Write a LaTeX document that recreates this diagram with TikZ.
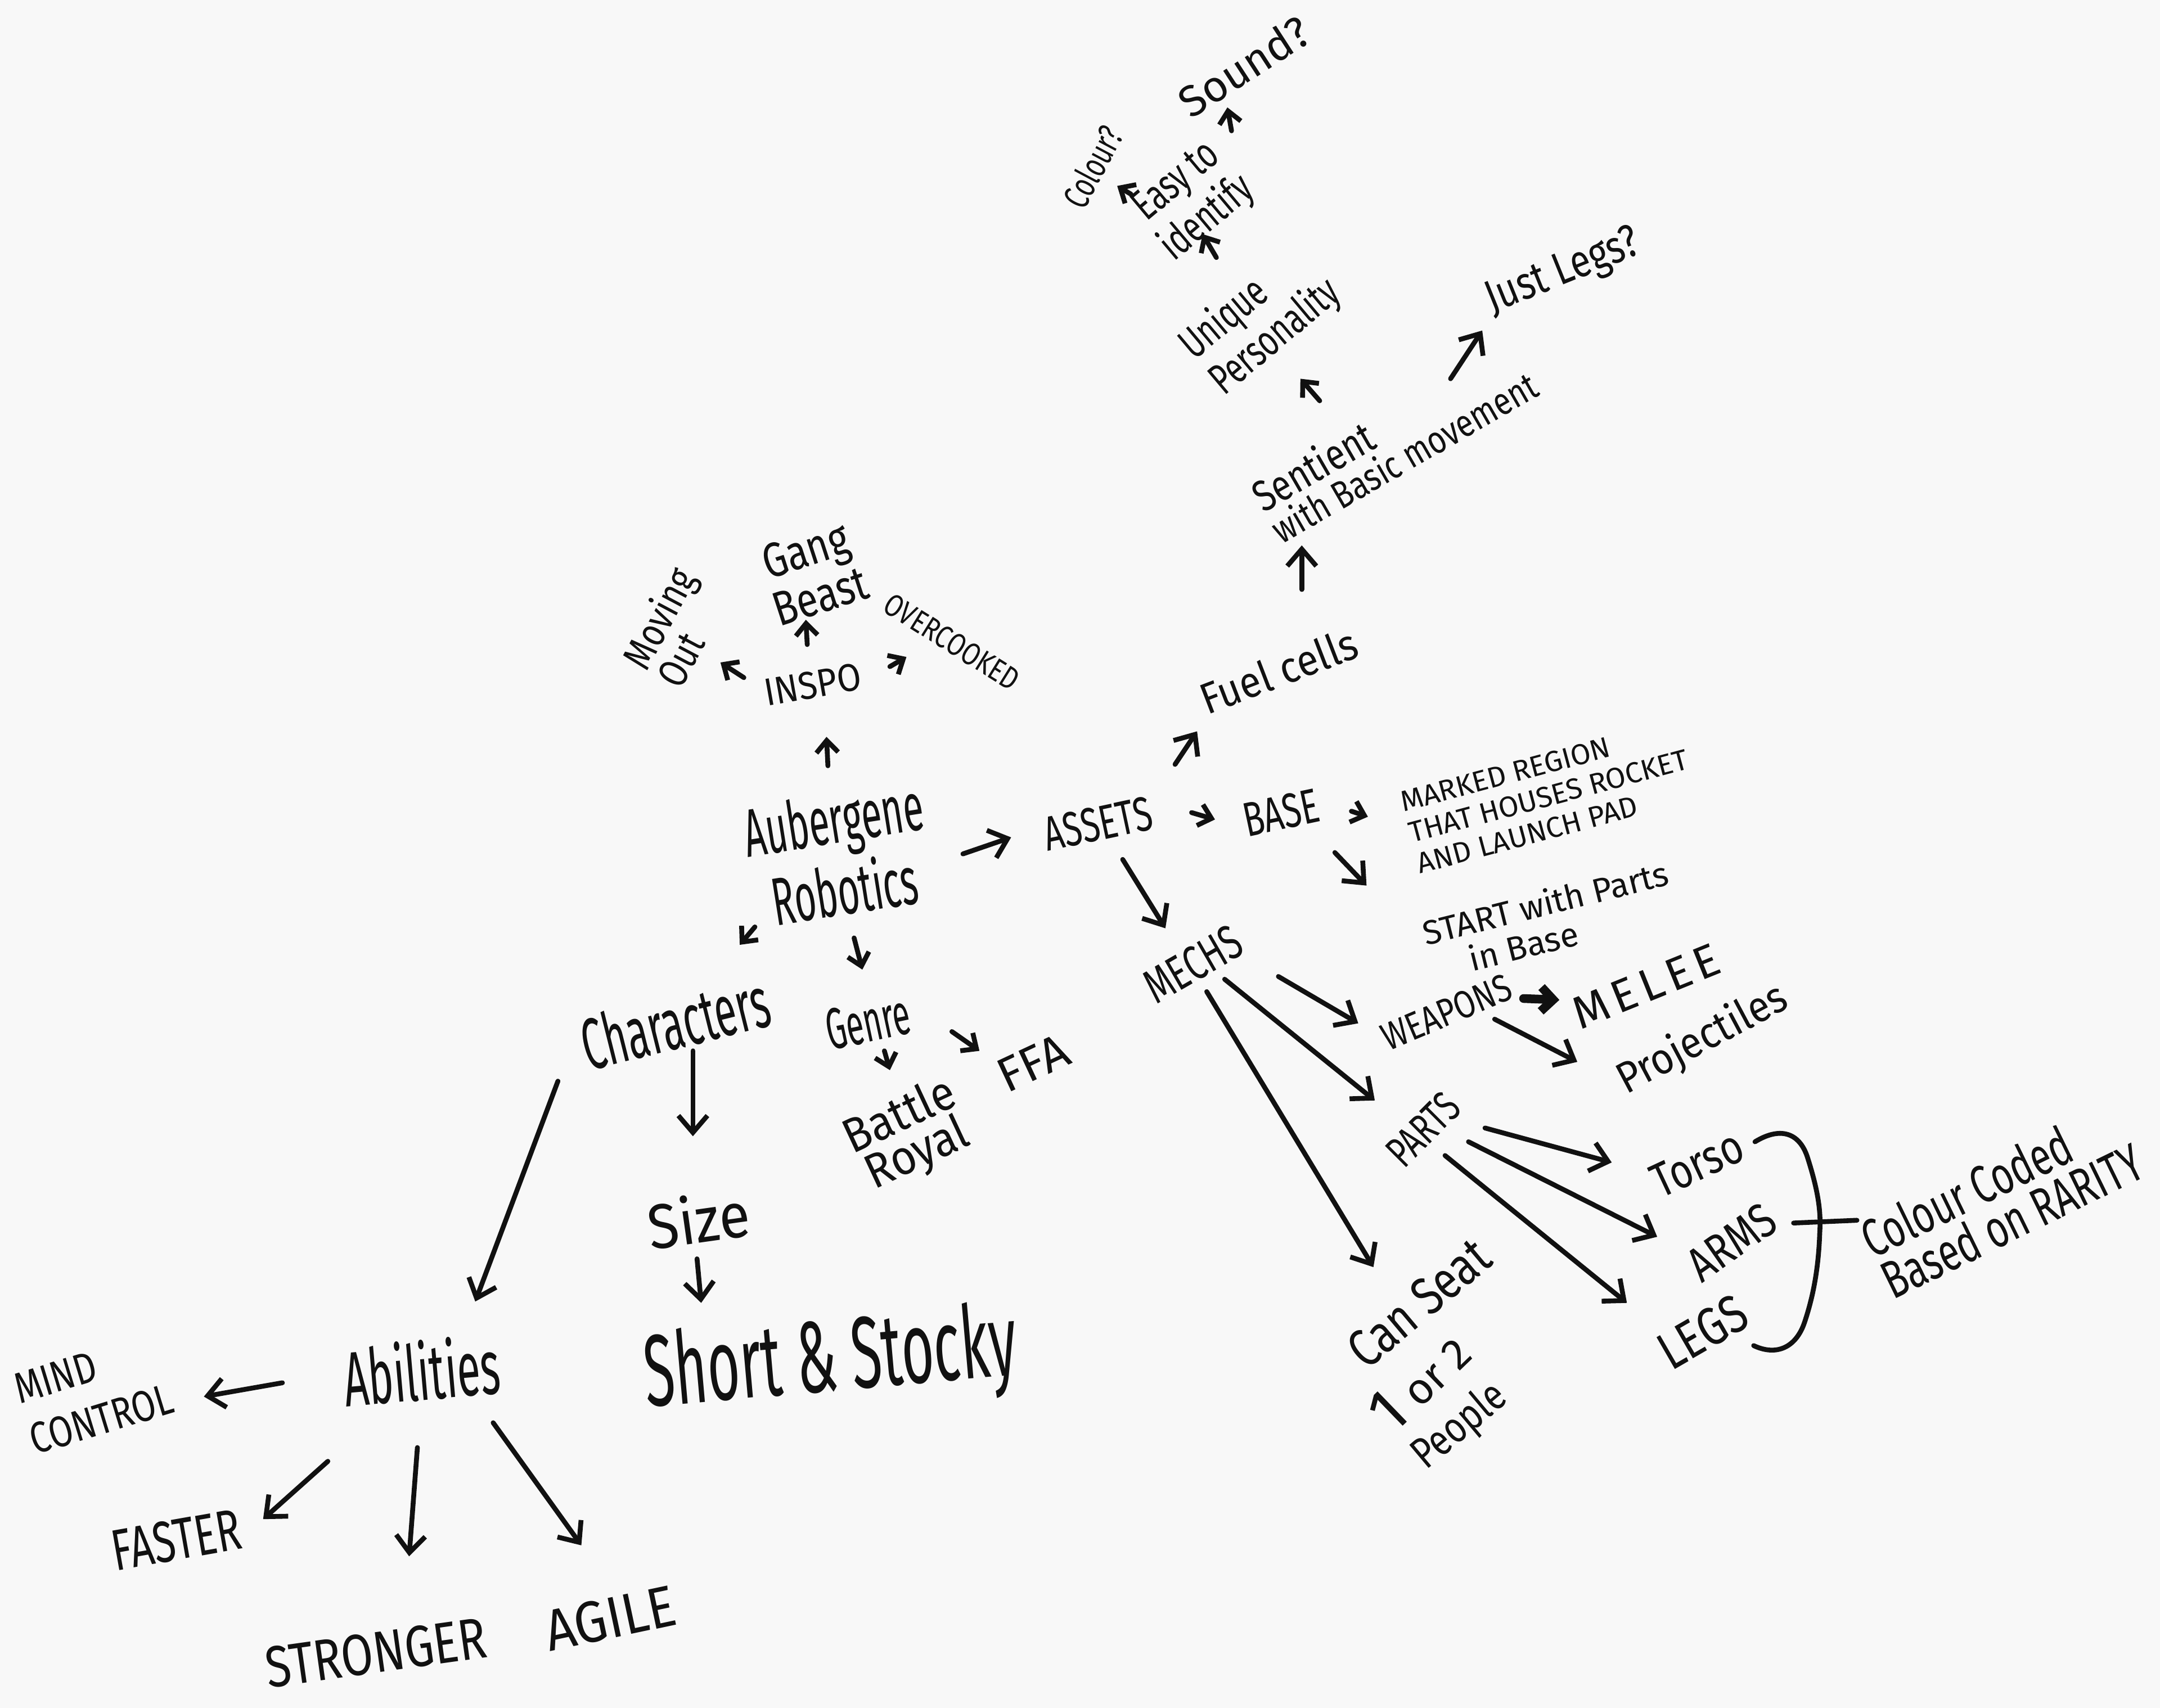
\documentclass[tikz,border=0pt]{standalone}
\usepackage{fontspec}
\setmainfont{Fira Sans}
\newfontfamily\fA{Fira Sans}[FakeStretch=0.55]
\newfontfamily\fB{Fira Sans}[FakeStretch=0.7]
\newfontfamily\fC{Fira Sans}[FakeStretch=0.8]
\newfontfamily\fD{Fira Sans}[FakeStretch=0.9]
\newfontfamily\fE{Fira Sans}
\newfontfamily\fS{Fira Sans}[LetterSpace=12]
\usetikzlibrary{arrows.meta,calc}
\newcommand\fsz[2]{\fontsize{#1}{#2}\selectfont}
\definecolor{ink}{HTML}{111111}
\definecolor{paper}{HTML}{F8F8F8}
\begin{document}
\begin{tikzpicture}[x=0.01cm,y=-0.01cm,
  lab/.style={inner sep=0.5pt, text=ink, align=center},
  pen/.style={draw=ink, line width=1pt, line cap=round, line join=round},
  arr/.style={pen, -{Straight Barb[length=3.5pt,width=6pt]}},
  sarr/.style={pen, -{Straight Barb[length=2.5pt,width=4.5pt]}},
  barr/.style={pen, line width=1.8pt, -{Straight Barb[length=2.5pt,width=5pt]}}]
\fill[paper] (0,0) rectangle (1568,1240);
\useasboundingbox (0,0) rectangle (1568,1240);

% ---------- nodes ----------
\node[lab, rotate=33, font=\fE\fsz{9}{10}] (snd) at (903,48) {Sound?};
\node[lab, rotate=62, font=\fB\fsz{7.5}{8}] (col) at (793,121) {Colour?};
\node[lab, rotate=40, font=\fB\fsz{9}{8.5}] (easy) at (866,146) {Easy to\\identify};
\node[lab, rotate=40, align=left, font=\fB\fsz{9}{9.5}] (uniq) at (915,232) {Unique\\Personality};
\node[lab, rotate=22, font=\fC\fsz{9.5}{10}] (legs) at (1135,198) {Just Legs?};
\node[lab, rotate=30, align=left, font=\fC\fsz{8}{7.5}] (sent) at (1012,319) {{\fsz{9}{7.5}Sentient}\\with Basic movement};
\node[lab, rotate=21, font=\fD\fsz{9}{10}] (fuel) at (928,487) {Fuel cells};
\node[lab, rotate=10, font=\fD\fsz{8}{9}] (inspo) at (590,497) {INSPO};
\node[lab, rotate=18, font=\fC\fsz{10}{9}] (gang) at (590,416) {Gang\\Beast};
\node[lab, rotate=62, align=left, font=\fC\fsz{8.5}{8}] (mov) at (490,455) {Moving\\Out};
\node[lab, rotate=-32, font=\fC\fsz{6.5}{7}] (over) at (691,466) {OVERCOOKED};
\node[lab, rotate=9, font=\fA\fsz{14}{12.5}] (aub) at (609,620) {Aubergene\\Robotics};
\node[lab, rotate=12, font=\fB\fsz{10}{11}] (ast) at (797,598) {ASSETS};
\node[lab, rotate=12, font=\fB\fsz{10}{11}] (base) at (930,590) {BASE};
\node[lab, rotate=15, align=left, font=\fE\fsz{6}{6.6}] (mark) at (1124,578) {MARKED REGION\\THAT HOUSES ROCKET\\AND LAUNCH PAD};
\node[lab, rotate=14, font=\fE\fsz{7}{7.5}] (start) at (1125,668) {START with Parts\\in Base\kern0.46cm};
\node[lab, rotate=30, font=\fB\fsz{10}{11}] (mech) at (866,700) {MECHS};
\node[lab, rotate=14, font=\fA\fsz{15}{16}] (chr) at (490,742) {Characters};
\node[lab, rotate=12, font=\fA\fsz{12}{13}] (genre) at (630,742) {Genre};
\node[lab, rotate=25, font=\fD\fsz{10}{8.5}] (battle) at (660,825) {Battle\\Royal};
\node[lab, rotate=25, font=\fE\fsz{10}{11}] (ffa) at (750,772) {FFA};
\node[lab, rotate=8, font=\fD\fsz{13}{14}] (size) at (507,885) {Size};
\node[lab, rotate=5, font=\fA\fsz{21}{22}] (short) at (603,990) {Short \& Stocky};
\node[lab, rotate=5, font=\fA\fsz{16}{17}] (abil) at (306,995) {Abilities};
\node[lab, rotate=17, align=left, font=\fC\fsz{9}{11}] (mind) at (68,1012) {MIND\\CONTROL};
\node[lab, rotate=10, font=\fB\fsz{12}{13}] (fast) at (128,1118) {FASTER};
\node[lab, rotate=8, font=\fC\fsz{12}{13}] (strong) at (273,1200) {STRONGER};
\node[lab, rotate=12, font=\fD\fsz{12}{13}] (agile) at (443,1175) {AGILE};
\node[lab, rotate=23, font=\fC\fsz{8}{9}] (weap) at (1050,735) {WEAPONS};
\node[lab, rotate=22, font=\fS\fsz{9.5}{10}] (melee) at (1195,716) {MELEE};
\node[lab, rotate=28, font=\fD\fsz{9}{10}] (proj) at (1236,755) {Projectiles};
\node[lab, rotate=45, font=\fB\fsz{9}{10}] (parts) at (1033,820) {PARTS};
\node[lab, rotate=25, font=\fC\fsz{10}{11}] (torso) at (1232,845) {Torso};
\node[lab, rotate=35, font=\fC\fsz{10}{11}] (arms) at (1257,902) {ARMS};
\node[lab, rotate=30, font=\fC\fsz{11}{12}] (legsn) at (1236,967) {LEGS};
\node[lab, rotate=26, align=left, font=\fB\fsz{11}{9.5}] (cc) at (1453,871) {Colour Coded\\Based on RARITY};
\node[lab, rotate=40, font=\fC\fsz{11}{12}] (seat1) at (1030,946) {Can Seat};
\node[lab, rotate=44, font=\fE\fsz{9}{11}] (seat2) at (1030,1003) {{\fsz{13}{13}1} or 2};
\node[lab, rotate=40, font=\fC\fsz{9}{10}] (seat3) at (1060,1036) {People};

% ---------- brace ----------
\draw[pen] (1274,829) .. controls (1292,818) and (1306,822) .. (1312,840)
  .. controls (1320,865) and (1322,880) .. (1321,895)
  .. controls (1320,925) and (1315,945) .. (1310,960)
  .. controls (1304,978) and (1290,985) .. (1273,977);
\coordinate (tickA) at (1302,888);
\coordinate (tickB) at (1348,886);
\draw[pen] (tickA) -- (tickB);

% ---------- connectors ----------
\draw[sarr] ($(easy)+(28,-51)$) -- ($(snd)+(-12,30)$);
\draw[sarr] ($(easy)+(-45,-5)$) -- ($(col)+(18,14)$);
\draw[sarr] ($(uniq)+(-32,-45)$) -- ($(easy)+(7,24)$);
\draw[sarr] ($(sent)+(-54,-28)$) -- ($(uniq)+(29,43)$);
\draw[arr] ($(sent)+(41,-44)$) -- ($(legs)+(-59,42)$);
\draw[arr] ($(fuel)+(17,-59)$) -- ($(sent)+(-67,77)$);
\draw[arr] ($(ast)+(56,-43)$) -- ($(fuel)+(-59,44)$);
\draw[sarr] ($(aub)+(-8,-64)$) -- ($(inspo)+(10,38)$);
\draw[sarr] ($(inspo)+(-50,-5)$) -- ($(mov)+(33,26)$);
\draw[sarr] ($(inspo)+(-4,-29)$) -- ($(gang)+(-5,34)$);
\draw[sarr] ($(inspo)+(56,-13)$) -- ($(over)+(-33,11)$);
\draw[arr] ($(aub)+(90,0)$) -- ($(ast)+(-63,10)$);
\draw[sarr] ($(ast)+(68,-8)$) -- ($(base)+(-48,5)$);
\draw[sarr] ($(base)+(51,-1)$) -- ($(mark)+(-131,15)$);
\draw[arr] ($(base)+(39,29)$) -- ($(start)+(-133,-25)$);
\draw[arr] ($(ast)+(18,26)$) -- ($(mech)+(-20,-26)$);
\draw[sarr] ($(aub)+(-61,53)$) -- ($(chr)+(47,-56)$);
\draw[sarr] ($(aub)+(11,61)$) -- ($(genre)+(-4,-38)$);
\draw[sarr] ($(genre)+(12,21)$) -- ($(battle)+(-14,-48)$);
\draw[sarr] ($(genre)+(61,7)$) -- ($(ffa)+(-39,-9)$);
\draw[arr] ($(chr)+(13,21)$) -- ($(size)+(-4,-60)$);
\draw[arr] ($(size)+(-1,29)$) -- ($(short)+(-94,-44)$);
\draw[arr] ($(chr)+(-85,43)$) -- ($(abil)+(39,-50)$);
\draw[arr] ($(abil)+(-101,9)$) -- ($(mind)+(80,2)$);
\draw[arr] ($(abil)+(-68,66)$) -- ($(fast)+(63,-15)$);
\draw[arr] ($(abil)+(-3,56)$) -- ($(strong)+(24,-70)$);
\draw[arr] ($(abil)+(52,38)$) -- ($(agile)+(-21,-53)$);
\draw[arr] ($(mech)+(62,9)$) -- ($(weap)+(-64,8)$);
\draw[barr] ($(weap)+(56,-10)$) -- ($(melee)+(-63,10)$);
\draw[arr] ($(weap)+(35,5)$) -- ($(proj)+(-91,16)$);
\draw[arr] ($(mech)+(23,11)$) -- ($(parts)+(-35,-21)$);
\draw[arr] ($(mech)+(10,20)$) -- ($(seat1)+(-33,-26)$);
\draw[arr] ($(parts)+(45,-1)$) -- ($(torso)+(-62,-1)$);
\draw[arr] ($(parts)+(33,9)$) -- ($(arms)+(-54,-4)$);
\draw[arr] ($(parts)+(16,19)$) -- ($(legsn)+(-55,-21)$);
\end{tikzpicture}
\end{document}
